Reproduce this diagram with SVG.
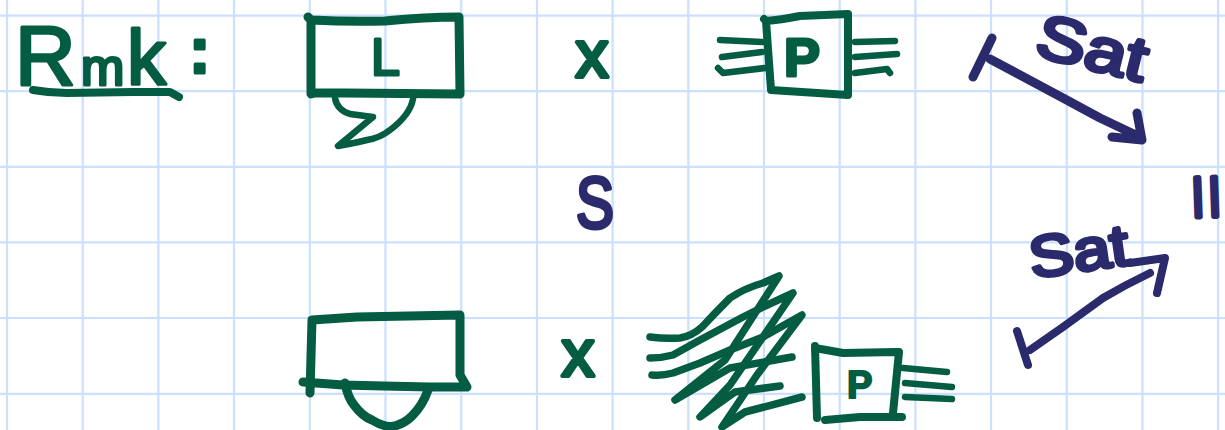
<svg xmlns="http://www.w3.org/2000/svg" width="1225" height="430" viewBox="0 0 1225 430">
<style>
.grid{stroke:#cbdfff;stroke-width:2.2;fill:none}
.g,.g8,.g7,.g6,.n,.n7{fill:none;stroke-linecap:round;stroke-linejoin:round}
.g{stroke:#045c42;stroke-width:9}
.g8{stroke:#045c42;stroke-width:7.5}
.g7{stroke:#045c42;stroke-width:8}
.g6{stroke:#045c42;stroke-width:6.5}
.n{stroke:#2a2a6c;stroke-width:9}
.n7{stroke:#2a2a6c;stroke-width:8}
.t{font-family:"Liberation Sans",Arial,sans-serif;stroke-linejoin:round;paint-order:stroke}
.tg{fill:#045c42;stroke:#045c42}
.tn{fill:#2a2a6c;stroke:#2a2a6c}
</style>
<rect width="1225" height="430" fill="#fff"/>
<g id="grid" class="grid">
<path d="M7 0V430M82.7 0V430M158.4 0V430M234 0V430M309.8 0V430M385.5 0V430M461.2 0V430M537 0V430M612.6 0V430M688.3 0V430M764 0V430M839.7 0V430M915.4 0V430M991 0V430M1066.8 0V430M1142.5 0V430M1218.2 0V430"/>
<path d="M0 15.7H1225M0 91.2H1225M0 166.8H1225M0 242.4H1225M0 318H1225M0 393.8H1225"/>
</g>
<g id="rmk">
<text class="t tg" stroke-width="3" y="85"><tspan x="15" font-size="84">R</tspan><tspan x="81" font-size="52">m</tspan><tspan x="127" font-size="78">k</tspan><tspan x="189" y="73" font-size="64" font-weight="bold">:</tspan></text>
<path class="g7" d="M33 90Q50 93 67 93L133 92L170 92L179 97"/>
</g>
<g id="left-top">
<path class="g" d="M308 17L311 20Q350 22 385 21Q425 17 459 17L460 94L345 93L315 93L311 94L311 20"/>
<path class="g6" d="M335 98Q337 110 350 114L373 117L338 146Q355 143 367 140Q380 138 390 130Q410 115 413 99"/>
<text class="t tg" stroke-width="3" x="371" y="75" font-size="52">L</text>
</g>
<text id="times-top" class="t tg" stroke-width="4" x="592" y="77" font-size="66" text-anchor="middle">x</text>
<g id="p-top">
<path class="g7" d="M764 19L766 21L771 90L848 95L848 14L800 16Q780 20 766 21"/>
<path class="g6" d="M720 40L762 42M722 57L762 52M718 68L723 73L765 68M855 42L895 41M855 57L897 54M855 73L887 69L890 73"/>
<text class="t tg" stroke-width="3" x="784" y="76" font-size="54" font-weight="bold">P</text>
</g>
<g id="sat-top">
<path class="n" d="M992 38L973 77M990 59L1020 75L1063 98L1100 118L1140 137M1137 113L1142 140L1112 137"/>
<text class="t tn" stroke-width="4" x="1033" y="55" font-size="62" textLength="112" lengthAdjust="spacingAndGlyphs" transform="rotate(14 1033 55)">Sat</text>
</g>
<text id="s" class="t tn" stroke-width="4" x="595" y="228" font-size="72" text-anchor="middle" textLength="38" lengthAdjust="spacingAndGlyphs">S</text>
<text id="parallel" class="t tn" stroke-width="5" x="1192" y="208" font-size="42" letter-spacing="6" transform="rotate(-2 1200 190)">||</text>
<g id="sat-bottom">
<path class="n7" d="M1130 263L1165 258L1157 293M1150 273Q1125 285 1103 298L1063 327L1030 350M1017 331L1028 365"/>
<text class="t tn" stroke-width="4" x="1032" y="278" font-size="58" textLength="100" lengthAdjust="spacingAndGlyphs" transform="rotate(-8 1032 278)">Sat</text>
</g>
<g id="left-bottom">
<path class="g" d="M310 393L312 320L357 317L460 315L460 375L467 387L430 387L383 386L343 385L303 382"/>
<path class="g" d="M345 383Q348 398 354 405Q362 416 372 420Q385 428 395 426Q405 423 412 416Q423 405 428 390"/>
</g>
<text id="times-bottom" class="t tg" stroke-width="4" x="578" y="376" font-size="66" text-anchor="middle">x</text>
<g id="p-bottom">
<path class="g8" d="M650 337Q665 339 680 338Q692 336 702 327Q716 312 730 298Q745 288 763 283L779 276L725 360L675 400L730 368L792 357"/>
<path class="g8" d="M650 358Q662 358 673 355L700 340L743 317L763 307L793 293L730 385L700 417L735 392L780 386"/>
<path class="g8" d="M652 375Q662 376 673 373L700 363L730 350L763 337L802 315L757 375L722 427L745 412L802 397"/>
<path class="g7" d="M815 346L817 418M815 348L843 353L897 352L899 352L893 413M825 420L860 417L902 417"/>
<path class="g6" d="M903 368L947 372M905 383L952 387M905 397L952 399"/>
<text class="t tg" stroke-width="2" x="847" y="398" font-size="38" font-weight="bold">P</text>
</g>
</svg>
